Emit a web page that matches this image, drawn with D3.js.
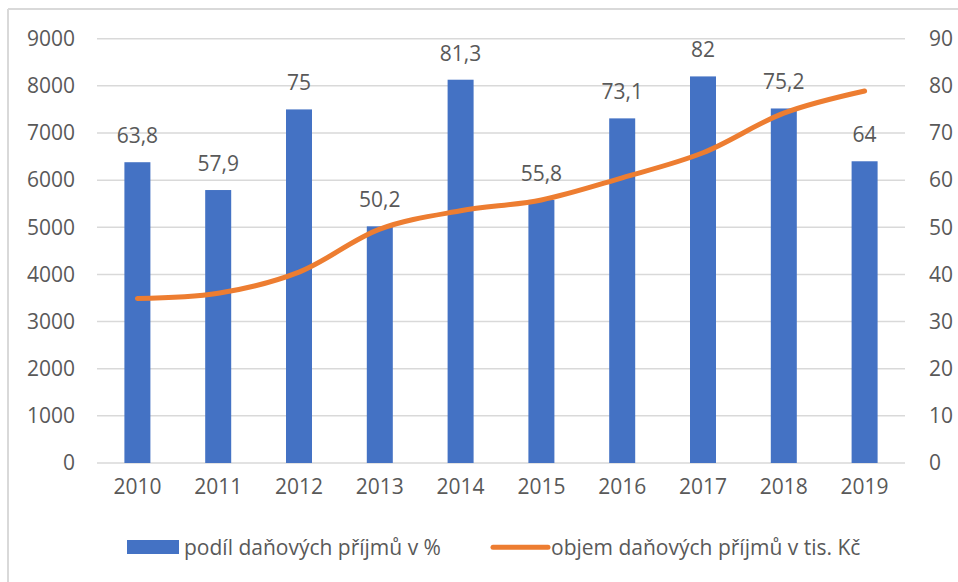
<!DOCTYPE html>
<html>
<head>
<meta charset="utf-8">
<script src="https://cdn.jsdelivr.net/npm/d3@7/dist/d3.min.js"></script>
<style>
  html, body { margin: 0; padding: 0; background: #fff; }
  svg text { font-family: "Open Sans", "Noto Sans", sans-serif; fill: #595959; }
</style>
</head>
<body>
<svg id="chart" width="958" height="582"></svg>
<script>
const years = ["2010","2011","2012","2013","2014","2015","2016","2017","2018","2019"];
const podil = [63.8, 57.9, 75, 50.2, 81.3, 55.8, 73.1, 82, 75.2, 64];
const podilLabels = ["63,8","57,9","75","50,2","81,3","55,8","73,1","82","75,2","64"];
const objem = [3490, 3600, 4050, 4960, 5350, 5580, 6050, 6580, 7420, 7890];
const leftTicks = [0,1000,2000,3000,4000,5000,6000,7000,8000,9000];
const rightTicks = [0,10,20,30,40,50,60,70,80,90];
const legendNames = ["podíl daňových příjmů v %", "objem daňových příjmů v tis. Kč"];

const FS = 21;
const svg = d3.select("#chart");
const m = {left: 97, right: 905, top: 38.7, bottom: 463};

// outer frame (top and left)
svg.append("line").attr("x1", 8).attr("x2", 958).attr("y1", 9).attr("y2", 9)
  .attr("stroke", "#d9d9d9").attr("stroke-width", 2);
svg.append("line").attr("x1", 8).attr("x2", 8).attr("y1", 9).attr("y2", 582)
  .attr("stroke", "#d9d9d9").attr("stroke-width", 2);

const x = d3.scaleBand().domain(years).range([m.left, m.right]).paddingInner(0.68).paddingOuter(0.34);
const yL = d3.scaleLinear().domain([0, 9000]).range([m.bottom, m.top]);
const yR = d3.scaleLinear().domain([0, 90]).range([m.bottom, m.top]);

// gridlines
svg.append("g").selectAll("line").data(leftTicks).join("line")
  .attr("x1", m.left).attr("x2", m.right)
  .attr("y1", d => yL(d)).attr("y2", d => yL(d))
  .attr("stroke", "#d9d9d9").attr("stroke-width", 1.5);

// left axis
const axL = svg.append("g").attr("transform", `translate(${m.left},0)`)
  .call(d3.axisLeft(yL).tickValues(leftTicks).tickSize(0).tickPadding(22).tickFormat(d3.format("d")));
axL.select(".domain").remove();
axL.selectAll("text").attr("font-size", FS).style("fill", "#595959");

// right axis
const axR = svg.append("g").attr("transform", `translate(${m.right},0)`)
  .call(d3.axisRight(yR).tickValues(rightTicks).tickSize(0).tickPadding(24).tickFormat(d3.format("d")));
axR.select(".domain").remove();
axR.selectAll("text").attr("font-size", FS).style("fill", "#595959");

// bottom axis
const axB = svg.append("g").attr("transform", `translate(0,${m.bottom})`)
  .call(d3.axisBottom(x).tickSize(0).tickPadding(16));
axB.select(".domain").remove();
axB.selectAll("text").attr("font-size", FS).style("fill", "#595959");

// bars
const barW = 26;
svg.append("g").selectAll("rect").data(years).join("rect")
  .attr("x", (d) => x(d) + x.bandwidth()/2 - barW/2)
  .attr("width", barW)
  .attr("y", (d, i) => yR(podil[i]))
  .attr("height", (d, i) => yR(0) - yR(podil[i]))
  .attr("fill", "#4472c4");

// bar labels
svg.append("g").selectAll("text").data(years).join("text")
  .attr("x", d => x(d) + x.bandwidth()/2)
  .attr("y", (d, i) => yR(podil[i]) - 19)
  .attr("text-anchor", "middle")
  .attr("font-size", FS)
  .text((d, i) => podilLabels[i]);

// line
const line = d3.line()
  .x((d, i) => x(years[i]) + x.bandwidth()/2)
  .y(d => yL(d))
  .curve(d3.curveCatmullRom.alpha(0.5));
svg.append("path").datum(objem)
  .attr("d", line)
  .attr("fill", "none")
  .attr("stroke", "#ed7d31")
  .attr("stroke-width", 5)
  .attr("stroke-linecap", "round")
  .attr("stroke-linejoin", "round");

// legend
const lg = svg.append("g");
lg.append("rect").attr("x", 127).attr("y", 540).attr("width", 52).attr("height", 14).attr("fill", "#4472c4");
lg.append("text").attr("x", 184).attr("y", 555).attr("font-size", FS).text(legendNames[0]);
lg.append("line").attr("x1", 493).attr("x2", 548).attr("y1", 547.3).attr("y2", 547.3)
  .attr("stroke", "#ed7d31").attr("stroke-width", 5).attr("stroke-linecap", "round");
lg.append("text").attr("x", 551).attr("y", 555).attr("font-size", FS).text(legendNames[1]);
</script>
</body>
</html>
